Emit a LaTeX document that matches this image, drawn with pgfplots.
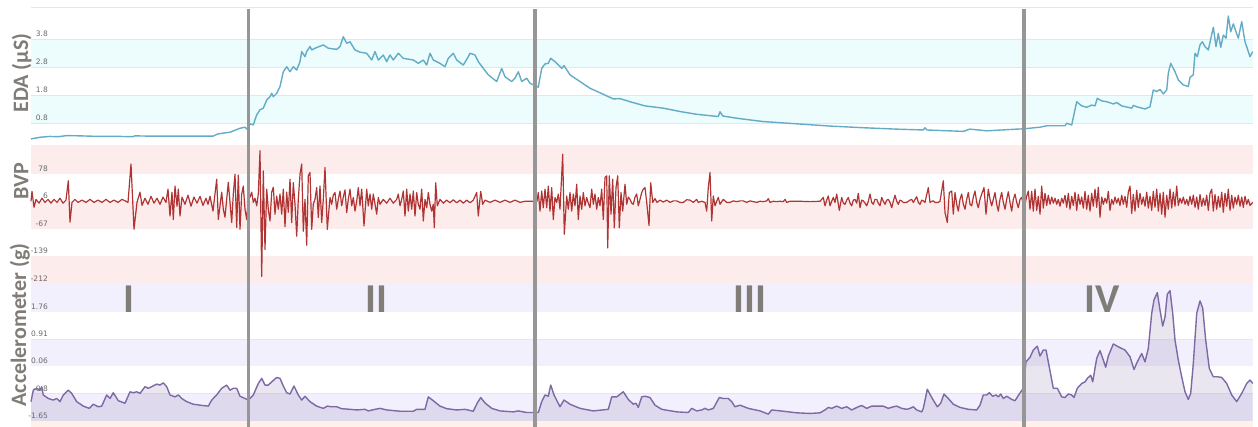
\documentclass[border=0pt]{standalone}
\usepackage{fontspec}
\setmainfont{Carlito}
\newfontfamily\tickfont{DejaVu Sans}
\usepackage{pgfplots}
\pgfplotsset{compat=1.18}
\usepackage{pgfplotstable}
\definecolor{edaline}{RGB}{98,172,198}
\definecolor{edaband}{RGB}{237,252,253}
\definecolor{bvpline}{RGB}{176,52,52}
\definecolor{bvpband}{RGB}{253,236,236}
\definecolor{accline}{RGB}{125,105,165}
\definecolor{accband}{RGB}{243,240,253}
\definecolor{peach}{RGB}{253,241,233}
\definecolor{gridc}{RGB}{226,232,234}
\definecolor{tickc}{RGB}{105,105,105}
\definecolor{titlec}{RGB}{128,124,120}
\definecolor{vlinec}{RGB}{150,150,150}

\pgfplotstableread{
x y
31 0.24
40 0.30
50 0.33
58 0.32
67 0.36
80 0.35
100 0.33
120 0.33
133 0.32
135 0.35
150 0.34
167 0.34
190 0.34
213 0.34
218 0.42
230 0.48
240 0.62
245 0.66
248 0.56
250 0.78
253.3 0.74
256.7 1.10
260 1.28
263.3 1.34
266.7 1.63
270 1.75
271.7 1.87
273.3 1.75
276.7 1.87
280 2.11
283.3 2.64
286.7 2.82
290 2.64
293.3 2.82
296.7 2.70
300 3.00
301.7 3.36
305 3.18
306.7 3.36
310 3.54
311.7 3.42
315 3.48
323.3 3.60
328.3 3.48
336.7 3.44
340 3.54
343.3 3.89
346.7 3.66
350 3.71
355 3.42
360 3.34
366.7 3.30
371.7 3.06
375 3.36
378.3 3.06
383.3 3.24
386.7 3.00
390 3.24
393.3 3.06
398.3 3.30
403.3 3.12
413.3 3.06
418.3 2.94
423.3 3.06
426.7 2.88
430 3.30
433.3 3.06
440 2.94
445 2.82
448.3 3.12
453.3 3.30
456.7 3.06
463.3 2.88
468.3 3.18
470 3.30
475 3.24
478.3 3.00
483.3 2.76
488.3 2.53
496.7 2.29
501.7 2.76
505 2.46
511.7 2.29
515 2.41
518.3 2.64
521.7 2.29
526.7 2.41
530 2.23
538.3 2.09
541.7 2.76
545 2.92
548.3 2.94
550.7 3.12
555 3.00
561.7 2.76
564 2.86
570 2.53
580 2.29
590 2.05
600 1.89
613.3 1.67
620 1.68
630 1.57
645 1.42
663.3 1.34
680 1.22
696.7 1.12
718.3 1.04
720 1.21
722.7 1.06
736.7 0.98
763.3 0.86
796.7 0.78
830 0.70
863.3 0.64
896.7 0.59
923.3 0.56
925 0.64
926.7 0.56
963.3 0.51
970 0.59
986.7 0.53
1016.7 0.59
1023.3 0.60
1040 0.66
1046.7 0.71
1065 0.71
1066.7 0.80
1071.7 0.74
1076.7 1.57
1081.7 1.42
1086.7 1.37
1091.7 1.45
1095 1.42
1097.3 1.69
1101.7 1.60
1106.7 1.57
1113.3 1.49
1116.7 1.54
1121.7 1.42
1131.7 1.34
1133.3 1.44
1136.7 1.39
1145 1.31
1150 1.39
1153.3 1.99
1156.7 1.93
1160 2.01
1163.3 1.85
1166.7 1.99
1168.3 2.59
1170.7 2.94
1175 2.64
1178.3 2.35
1183.3 2.17
1188.3 2.11
1190 2.44
1193.3 2.53
1195 3.30
1197.3 3.18
1200 3.60
1202.3 3.71
1205 3.54
1208.3 3.42
1213.3 4.23
1216 3.54
1218.3 4.01
1220.7 3.51
1223.3 3.95
1226 3.84
1228.3 4.63
1230.7 4.07
1233.3 4.35
1236 4.07
1238.3 3.84
1241.7 4.43
1245 3.71
1250 3.18
1252.7 3.36
}\edatable

\pgfplotstableread{
x y
31 6
32 32
34 -10
36 11
39 1
42 14
45 3
48 11
51 1
54 11
57 3
60 14
63 1
66 9
68.3 60
70 -49
72 3
75 11
78 3
82 9
86 3
90 11
94 3
98 9
102 3
106 11
110 3
114 9
118 3
122 11
126 6
128 3
131 104
134 -68
137 3
140 30
142 -5
145 14
148 -2
151 19
154 1
157 14
160 -2
163 17
166 3
168 38
170 -33
172 30
173.3 -42
175 46
177 -7
178.3 38
180 -33
182 17
185 -2
188 22
191 -7
194 17
197 1
200 19
203 -5
206 14
208 -2
210 19
213 -20
216.7 64
218.3 -42
221.7 30
223.3 -15
225 -36
228.3 56
231.7 -50
233.3 25
235 77
236.7 -63
238.3 75
240 -68
241.7 25
243.3 46
245 -15
246.7 -42
248.3 11
250 17
251.7 30
253.3 3
255 14
256.7 -6
258.3 25
260 139
261.7 -192
263.3 86
265 -121
266.7 38
268.3 -15
270 -46
271.7 30
273.3 43
275 -28
276.7 20
278.3 -15
280 25
281.7 -28
283.3 38
285 -61
286.7 30
288.3 -23
290 64
291.7 -50
293.3 55
295 -2
296.7 -86
298.3 11
300 77
301.7 104
303.3 -73
305 11
306.7 -110
308.3 73
310 82
311.7 -68
313.3 -2
315 11
316.7 42
318.3 -37
320 46
321.7 -50
323.3 11
325 95
327.3 -68
330 16
331.7 -2
333.3 22
335 29
336.7 -15
338.3 11
340 33
341.7 -6
343.3 17
345 36
346.7 -24
348.3 11
350 38
351.7 -6
353.3 16
355 -20
356.7 6
358.3 42
360 -6
361.7 38
364 -59
366.7 38
368.3 -6
370 25
371.7 -15
373.3 25
376.7 -28
378.3 16
380 -2
383.3 11
386.7 1
390 14
393.3 1
396.7 11
398.3 25
400 -6
401.7 11
403.3 33
405 -33
406.7 38
408.3 -20
410 25
411.7 -15
413.3 33
415 -33
416.7 29
418.3 -2
420 -15
421.7 38
423.3 -46
425 11
426.7 -11
428.3 29
430 -2
431.7 -20
433.3 -2
434.3 -64
435.7 55
437.3 -6
440 11
443.3 1
446.7 9
450 2
453.3 10
456.7 2
460 9
463.3 1
466.7 9
470 2
473.3 9
476.7 29
478.3 -33
480.7 32
482.7 -2
485 9
490 3
495 9
500 3
505 9
510 3
515 9
520 3
525 6
530 6
535 6
537 6
538.3 29
540 -20
541.7 33
543.3 -11
545 38
546.7 -11
548.3 46
550 -20
551.7 42
553.3 -42
555 16
556.7 3
558.3 25
560 -15
562.7 130
564.3 -81
566.7 20
568.3 -15
570 29
571.7 -20
573.3 25
575 -6
576.7 51
578.3 -42
580 20
581.7 -15
583.3 29
585 -6
586.7 16
588.3 1
590 -11
591.7 38
593.3 -2
595 25
596.7 -15
598.3 16
600 -6
601.7 38
603.3 -42
605 69
606.7 73
607.7 -117
609.3 73
611 -28
612.7 64
614.3 -64
616 42
617.7 73
619.3 -64
621 29
622.7 -20
625 51
626.7 -2
628.3 17
630 11
631.7 1
633.3 -2
635 17
636.7 25
638.3 -6
640 11
641.7 29
643.3 38
645 42
646.7 3
649 -58
650.7 55
652.7 3
655 13
657 3
660 9
663.3 4
666.7 9
670 3
673.3 7
676.7 7
680 3
683.3 3
686.7 10
690 9
693.3 3
696.7 11
698.3 3
701.7 6
705 3
706.7 -20
708.3 42
710 82
711.7 -46
713.3 20
715 -6
716.7 6
718.3 16
720 -2
723.3 11
726.7 3
730 3
733.3 7
736.7 5
740 7
743.3 7
746.7 3
750 7
753.3 5
756.7 3
760 6
763.3 5
766.7 7
768.3 13
770 3
773.3 6
776.7 5
780 6
783.3 5
785 11
786.7 3
790 6
800 6
810 5
820 6
823.3 16
825 -6
826.7 9
828.3 20
830 -6
831.7 6
833.3 16
835 3
836.7 25
839.3 -18
841.7 16
843.3 1
845 -2
846.7 9
848.3 16
850 1
851.7 -6
853.3 9
855 11
856.7 1
858.3 27
860 -11
861.7 9
863.3 7
865 1
866.7 -6
868.3 6
870 25
871.7 3
873.3 -2
875 11
876.7 11
878.3 1
880 -6
881.7 16
883.3 6
885 -2
886.7 9
888.3 11
890 3
891.7 -11
893.3 6
895 22
896.7 6
898.3 -2
900 9
901.7 7
903.3 3
906.7 3
910 9
911.7 11
913.3 3
916.7 18
918.3 3
920 -2
921.7 9
923.3 7
925 3
928.3 42
930 3
931.7 6
933.3 7
935 3
938.3 3
940 6
943.3 60
945 -24
947.3 -50
949.3 29
951.7 33
953.3 -28
955 29
956.7 -2
958.3 -20
960 11
961.7 25
963.3 -2
965 -15
966.7 11
968.3 29
970 -2
971.7 -6
973.3 17
975 33
976.7 3
978.3 -11
980 11
981.7 25
984 42
986 -28
988.3 38
990 11
991.7 -6
993.3 11
995 29
996.7 -2
998.3 -20
1000 11
1001.7 29
1003.3 3
1005 -15
1006.7 11
1008.3 31
1010 3
1011.7 -20
1013.3 11
1015 25
1016.7 3
1018.3 -11
1020 11
1021.7 16
1023.3 -2
1025 -2
1026.7 19
1028.3 33
1030 -15
1031.7 32
1033.3 -20
1035 38
1036.7 -18
1038.3 19
1040 -28
1041.7 46
1043.3 -12
1045 27
1046.7 -5
1048.3 22
1050 -2
1051.7 17
1053.3 1
1055 14
1056.7 -2
1058.3 11
1060 -7
1061.7 14
1063.3 1
1065 22
1066.7 -10
1068.3 27
1070 -15
1071.7 19
1073.3 -5
1075 30
1076.7 -18
1078.3 24
1080 -2
1081.7 17
1083.3 -12
1085 32
1086.7 -15
1088.3 22
1090 -20
1091.7 27
1093.3 -7
1095 38
1096.7 -10
1098.3 43
1100 -36
1101.7 17
1103.3 -2
1105 14
1106.7 1
1108.3 32
1110 -18
1111.7 11
1113.3 -2
1115 17
1116.7 1
1118.3 14
1120 -5
1121.7 22
1123.3 -2
1125 19
1126.7 -10
1128.3 30
1130 46
1131.7 -26
1133.3 24
1135 -20
1136.7 35
1138.3 -10
1140 27
1141.7 -2
1143.3 17
1145 -7
1146.7 30
1148.3 -12
1150 19
1151.7 -18
1153.3 32
1155 -10
1156.7 38
1158.3 -20
1160 27
1161.7 -28
1163.3 30
1165 -36
1166.7 22
1168.3 -15
1170 38
1171.7 -12
1173.3 30
1175 -7
1176.7 46
1178.3 -5
1180 14
1181.7 1
1183.3 17
1185 -2
1186.7 11
1188.3 -5
1190 19
1191.7 -2
1193.3 22
1195 -10
1196.7 17
1198.3 -15
1200 24
1201.7 -7
1203.3 14
1205 -5
1206.7 22
1208.3 -18
1210 27
1211.7 38
1213.3 -20
1215 24
1216.7 -15
1218.3 19
1220 -10
1221.7 30
1223.3 -23
1225 27
1226.7 -7
1228.3 38
1230 -18
1231.7 22
1233.3 -12
1235 17
1236.7 -2
1238.3 22
1240 -7
1241.7 17
1243.3 -10
1245 19
1246.7 -2
1248.3 11
1250 -5
1252.7 3
}\bvptable

\pgfplotstableread{
x y
31 -1.05
33.3 -0.69
36.7 -0.63
40 -0.69
41.7 -0.58
43.3 -0.84
48.3 -0.95
53.3 -1.00
56.7 -0.95
60 -1.05
63.3 -0.84
68.3 -0.69
71.7 -0.79
76.7 -1.05
83.3 -1.19
89.3 -1.26
93.3 -1.13
98.3 -1.21
101.7 -1.19
106.7 -0.84
110 -0.95
113.3 -0.77
118.3 -1.02
125 -1.10
130 -0.74
133.3 -0.77
136.7 -0.74
140 -0.79
145 -0.58
148.3 -0.63
151.7 -0.58
156.7 -0.50
160 -0.53
163.3 -0.46
166.7 -0.58
170 -0.84
175 -0.90
178.3 -0.84
181.7 -0.95
186.7 -1.05
193.3 -1.13
200 -1.16
208.3 -1.19
211.7 -1.00
216.7 -0.84
221.7 -0.63
226.7 -0.53
230 -0.69
233.3 -0.63
236.7 -0.63
240 -0.88
245 -0.95
248.3 -1.00
253.3 -0.84
258.3 -0.48
261.7 -0.32
265 -0.53
268.3 -0.53
271.7 -0.43
276.7 -0.29
280 -0.32
283.3 -0.56
286.7 -0.77
290 -0.81
294 -0.56
298.3 -0.84
301.7 -1.00
305 -0.88
310 -1.05
316.7 -1.19
323.3 -1.26
327.3 -1.19
331.7 -1.21
336.7 -1.21
341.7 -1.27
350 -1.29
356.7 -1.31
365 -1.29
368.3 -1.34
375 -1.29
380 -1.26
386.7 -1.31
400 -1.35
413.3 -1.35
416.7 -1.29
425 -1.29
428.3 -0.90
433.3 -1.02
440 -1.19
446.7 -1.27
456.7 -1.31
465 -1.29
473.3 -1.35
477.3 -1.09
480.7 -0.92
485 -1.09
491.7 -1.26
500 -1.34
513.3 -1.37
518.3 -1.34
526.7 -1.39
538.3 -1.39
541.7 -1.05
545 -0.84
548.3 -0.88
550.7 -0.53
554 -0.84
560 -1.21
564 -1.00
570 -1.13
580 -1.26
593.3 -1.34
608.3 -1.29
611.7 -0.90
616.7 -0.90
623.3 -0.74
628.3 -0.98
633.3 -1.13
636 -1.10
638.3 -1.23
641.7 -0.90
645 -0.88
650 -0.92
655 -1.16
661.7 -1.29
676.7 -1.37
688.3 -1.39
691.7 -1.26
696.7 -1.34
701.7 -1.31
705 -1.26
708.3 -1.31
713.3 -1.26
719.3 -0.92
723.3 -0.95
728.3 -0.95
731.7 -1.05
735 -1.21
740 -1.16
748.3 -1.26
760 -1.34
768.3 -1.44
771.7 -1.31
783.3 -1.35
796.7 -1.40
810 -1.42
820 -1.40
825 -1.31
828.3 -1.23
831.7 -1.26
836.7 -1.19
841.7 -1.26
846.7 -1.21
851.7 -1.31
858.3 -1.21
861.7 -1.17
866.7 -1.26
871.7 -1.19
876.7 -1.19
883.3 -1.19
888.3 -1.26
893.3 -1.21
896.7 -1.19
901.7 -1.26
906.7 -1.29
910 -1.26
913.3 -1.21
916.7 -1.31
921.7 -1.37
923.3 -1.26
927.3 -0.66
931.7 -0.92
937.3 -1.21
940.7 -1.10
944 -0.81
948.3 -0.95
953.3 -1.13
960 -1.23
968.3 -1.29
976.7 -1.31
980 -1.16
983.3 -0.84
986.7 -0.84
989.3 -0.77
992.7 -0.88
996 -0.84
998.3 -0.90
1000.7 -0.81
1003.3 -0.95
1006.7 -0.88
1011.7 -0.98
1015 -1.02
1019.3 -0.81
1023.3 -0.63
1026 0.20
1030 0.34
1033.3 0.57
1037.3 0.69
1040 0.38
1043.3 0.57
1046 0.57
1048.3 0.20
1051.7 -0.37
1053.3 -0.63
1057.3 -0.63
1061.7 -0.90
1065 -0.92
1068.3 -0.81
1071.7 -0.84
1074 -0.92
1077.3 -0.63
1081.7 -0.48
1085 -0.43
1087.3 -0.32
1090.7 -0.22
1092.7 -0.43
1096.7 0.31
1100 0.55
1102.7 0.31
1105.7 0.03
1108.3 0.38
1113.3 0.76
1118.3 0.67
1125 0.57
1130 0.36
1134 -0.04
1137.3 0.20
1141.7 0.46
1145 0.20
1148.3 0.62
1151.7 1.72
1154 2.14
1157.3 2.37
1160 1.82
1162.7 1.32
1165 1.61
1167.3 2.32
1170 2.43
1172.7 1.72
1175 0.88
1178.3 0.25
1181.7 -0.27
1185 -0.74
1188.3 -0.98
1190.7 -0.79
1193.3 0.15
1196.7 1.72
1200 2.11
1202.7 1.88
1205.7 0.88
1209.3 -0.01
1213.3 -0.27
1217.3 -0.27
1221.7 -0.29
1226.7 -0.48
1231.7 -0.84
1236.7 -1.05
1241.7 -0.79
1246.7 -0.48
1250 -0.37
1252.7 -0.48
}\acctable

\pgfplotsset{
  panel/.style={
    scale only axis, width=1221.7pt, xmin=31, xmax=1252.7,
    axis line style={draw=none}, xtick=\empty, major tick length=0pt,
    yticklabel style={font=\tickfont\fontsize{7.5}{8}\selectfont, text=tickc,
      anchor=base east, inner sep=0pt, xshift=17pt, yshift=2.5pt},
    clip=false, anchor=north west, axis on top,
  },
  vline/.style={vlinec, line width=3.3pt, forget plot},
  band/.style={draw=none, fill=#1, forget plot},
  gline/.style={gridc, line width=0.8pt, forget plot},
}

\begin{document}
\begin{tikzpicture}
\path[use as bounding box] (0,0) rectangle (1258pt,-427pt);

% EDA
\begin{axis}[panel, at={(31pt,-7.1pt)}, height=138pt, ymin=0.02, ymax=4.95,
  ytick={0.8,1.8,2.8,3.8}, yticklabels={0.8,1.8,2.8,3.8}]
\addplot[band=edaband] coordinates {(31,2.8) (1252.7,2.8) (1252.7,3.8) (31,3.8)} -- cycle;
\addplot[band=edaband] coordinates {(31,0.8) (1252.7,0.8) (1252.7,1.8) (31,1.8)} -- cycle;
\addplot[gline] coordinates {(31,4.95) (1252.7,4.95)};
\addplot[gline] coordinates {(31,3.8) (1252.7,3.8)};
\addplot[gline] coordinates {(31,2.8) (1252.7,2.8)};
\addplot[gline] coordinates {(31,1.8) (1252.7,1.8)};
\addplot[gline] coordinates {(31,0.8) (1252.7,0.8)};
\addplot[edaline, line width=1.4pt, line join=round] table {\edatable};
\addplot[vline] coordinates {(248.3,0.02) (248.3,4.88)};
\addplot[vline] coordinates {(535,0.02) (535,4.88)};
\addplot[vline] coordinates {(1024,0.02) (1024,4.88)};
\end{axis}

% BVP
\begin{axis}[panel, at={(31pt,-145.1pt)}, height=138.9pt, ymin=-212, ymax=154,
  ytick={-212,-139.5,-67,5.5,78}, yticklabels={-212,-139,-67,6,78}]
\addplot[band=bvpband] coordinates {(31,78) (1252.7,78) (1252.7,154) (31,154)} -- cycle;
\addplot[band=bvpband] coordinates {(31,-67) (1252.7,-67) (1252.7,5.5) (31,5.5)} -- cycle;
\addplot[band=bvpband] coordinates {(31,-212) (1252.7,-212) (1252.7,-139.5) (31,-139.5)} -- cycle;
\addplot[bvpline, line width=1.2pt, line join=round] table {\bvptable};
\addplot[vline] coordinates {(248.3,-212) (248.3,154)};
\addplot[vline] coordinates {(535,-212) (535,154)};
\addplot[vline] coordinates {(1024,-212) (1024,154)};
\end{axis}

% Accelerometer
\begin{axis}[panel, at={(31pt,-284pt)}, height=136.8pt, ymin=-1.65, ymax=2.64,
  ytick={-1.65,-0.795,0.06,0.91,1.76}, yticklabels={-1.65,-0.8,0.06,0.91,1.76}]
\addplot[band=accband] coordinates {(31,1.76) (1252.7,1.76) (1252.7,2.64) (31,2.64)} -- cycle;
\addplot[band=accband] coordinates {(31,0.06) (1252.7,0.06) (1252.7,0.91) (31,0.91)} -- cycle;
\addplot[band=accband] coordinates {(31,-1.65) (1252.7,-1.65) (1252.7,-0.795) (31,-0.795)} -- cycle;
\addplot[band=peach] coordinates {(31,-1.85) (1252.7,-1.85) (1252.7,-1.65) (31,-1.65)} -- cycle;
\addplot[gline] coordinates {(31,0.91) (1252.7,0.91)};
\addplot[gline] coordinates {(31,-0.795) (1252.7,-0.795)};
\addplot[draw=none, fill=accline, fill opacity=0.17, forget plot] table {\acctable} -- (axis cs:1252.7,-1.65) -- (axis cs:31,-1.65) -- cycle;
\addplot[accline, line width=1.4pt, line join=round] table {\acctable};
\node[font=\bfseries\fontsize{41}{41}\selectfont, text=titlec, anchor=base] at (axis cs:129,1.76) {I};
\node[font=\bfseries\fontsize{41}{41}\selectfont, text=titlec, anchor=base] at (axis cs:376,1.76) {II};
\node[font=\bfseries\fontsize{41}{41}\selectfont, text=titlec, anchor=base] at (axis cs:749.5,1.76) {III};
\node[font=\bfseries\fontsize{41}{41}\selectfont, text=titlec, anchor=base] at (axis cs:1102,1.76) {IV};
\addplot[vline] coordinates {(248.3,-1.85) (248.3,2.64)};
\addplot[vline] coordinates {(535,-1.85) (535,2.64)};
\addplot[vline] coordinates {(1024,-1.85) (1024,2.64)};
\end{axis}

\node[rotate=90, anchor=base, font=\bfseries\fontsize{22}{24}\selectfont, text=titlec] at (28pt,-73pt) {EDA (µS)};
\node[rotate=90, anchor=base, font=\bfseries\fontsize{22}{24}\selectfont, text=titlec] at (28.3pt,-180.7pt) {BVP};
\node[rotate=90, anchor=base, font=\bfseries\fontsize{22}{24}\selectfont, text=titlec] at (26pt,-325pt) {Accelerometer (g)};
\end{tikzpicture}
\end{document}
